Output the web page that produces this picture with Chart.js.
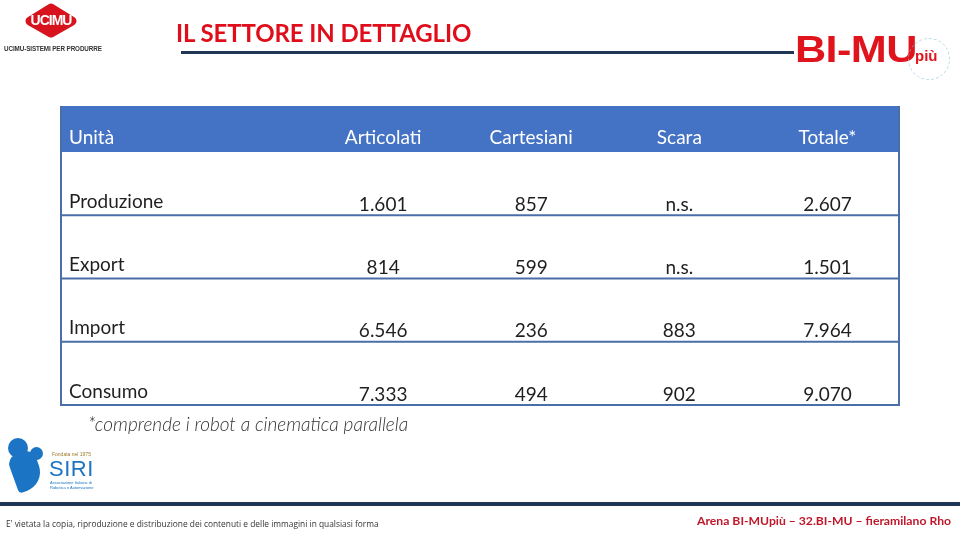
<!DOCTYPE html>
<html><head><meta charset="utf-8">
<script src="https://cdn.jsdelivr.net/npm/chart.js@4/dist/chart.umd.min.js"></script>
<style>
html,body{margin:0;padding:0;background:#fff;width:960px;height:540px;overflow:hidden;position:relative;font-family:Lato,"Open Sans",sans-serif}
#wrap{position:absolute;left:0;top:0;width:960px;height:540px}
.abs{position:absolute;white-space:nowrap}
</style></head><body>
<div id="wrap"><canvas id="c" width="960" height="540"></canvas></div>

<!-- UCIMU logo -->
<svg class="abs" style="left:0;top:0" width="110" height="60">
  <polygon points="51,8 72,21 51,33 30,21" fill="#d7131d" stroke="#d7131d" stroke-width="9" stroke-linejoin="round"/>
</svg>
<div class="abs" style="left:24px;top:12px;width:54px;text-align:center;color:#fff;font-family:'Liberation Sans',Arial,sans-serif;font-weight:bold;font-size:14px;letter-spacing:-1px">UCIMU</div>
<div class="abs" style="left:4px;top:45px;font-family:'Liberation Sans',Arial,sans-serif;font-size:6.3px;color:#333;font-weight:bold;letter-spacing:-0.1px">UCIMU-SISTEMI PER PRODURRE</div>

<!-- Title -->
<div class="abs" style="left:176px;top:18px;font-family:Lato,sans-serif;font-weight:bold;font-size:24px;color:#e00d1a;letter-spacing:-0.1px">IL SETTORE IN DETTAGLIO</div>
<div class="abs" style="left:181px;top:51px;width:613px;height:3px;background:#1f3657"></div>

<!-- BI-MU logo -->
<div class="abs" style="left:795px;top:29px;font-family:'Liberation Sans',Arial,sans-serif;font-weight:bold;font-size:36px;color:#e0141d;transform-origin:0 0;transform:scaleX(1.2);letter-spacing:-0.5px">BI-MU</div>
<div class="abs" style="left:915px;top:47px;font-family:'Liberation Sans',Arial,sans-serif;font-weight:bold;font-size:15px;color:#e0141d">più</div>
<div class="abs" style="left:908px;top:38px;width:40px;height:40px;border:1px dashed #8cc4d8;border-radius:50%;opacity:0.6"></div>

<!-- Footnote -->
<div class="abs" style="left:88px;top:412px;font-family:Lato,sans-serif;font-style:italic;font-weight:300;font-size:19px;color:#333">*comprende i robot a cinematica parallela</div>

<!-- SIRI logo -->
<div class="abs" style="left:8px;top:438px;width:20px;height:20px;border-radius:50%;background:#1b74c4"></div>
<div class="abs" style="left:30px;top:447px;width:13px;height:13px;border-radius:50%;background:#1b74c4"></div>
<div class="abs" style="left:12px;top:452px;width:28px;height:38px;border-radius:10px 10px 20px 4px;background:#1b74c4;transform:rotate(-20deg)"></div>
<div class="abs" style="left:52px;top:451px;font-family:'Liberation Sans',sans-serif;font-size:5px;color:#a07b2a">Fondata nel 1975</div>
<div class="abs" style="left:49px;top:456px;font-family:'Liberation Sans',sans-serif;font-size:22px;color:#1b74c4;letter-spacing:0.5px">SIRI</div>
<div class="abs" style="left:50px;top:480px;font-family:'Liberation Sans',sans-serif;font-size:4px;color:#1b74c4;line-height:5px">Associazione Italiana di<br>Robotica e Automazione</div>

<!-- Footer -->
<div class="abs" style="left:0;top:502px;width:960px;height:4px;background:#1f3657"></div>
<div class="abs" style="left:6px;top:518px;font-family:'Open Sans',sans-serif;font-size:8.4px;color:#333">E' vietata la copia, riproduzione e distribuzione dei contenuti e delle immagini in qualsiasi forma</div>
<div class="abs" style="left:697px;top:513px;font-family:Lato,sans-serif;font-weight:bold;font-size:12.2px;color:#c0172b">Arena BI-MUpiù – 32.BI-MU – fieramilano Rho</div>

<script>
// ---- data ----
const columns = ["Unità", "Articolati", "Cartesiani", "Scara", "Totale*"];
const rows = ["Produzione", "Export", "Import", "Consumo"];
const articolati = [1601, 814, 6546, 7333];
const cartesiani = [857, 599, 236, 494];
const scara = [null, null, 883, 902];   // null = n.s.
const totale = [2607, 1501, 7964, 9070];

const series = [articolati, cartesiani, scara, totale];

function fmt(v) {
  if (v === null || v === undefined) return "n.s.";
  return String(v).replace(/\B(?=(\d{3})+(?!\d))/g, ".");
}

const datasets = series.map((arr, ci) => ({
  label: columns[ci + 1],
  data: rows.map((r, ri) => ({ x: ci + 1, y: r, v: arr[ri] })),
  pointRadius: 0,
  pointHoverRadius: 0,
  showLine: false
}));

const HEADER_H = 46;
const FONT = '19px Lato, sans-serif';
const tablePlugin = {
  id: 'tablePlugin',
  afterDatasetsDraw(chart) {
    const ctx = chart.ctx;
    const ca = chart.chartArea;
    const xs = chart.scales.x, ys = chart.scales.y;
    ctx.save();
    // header background
    ctx.fillStyle = '#4472c4';
    ctx.fillRect(ca.left, ca.top - HEADER_H, ca.right - ca.left, HEADER_H);
    // header text
    ctx.fillStyle = '#ffffff';
    ctx.font = FONT;
    ctx.textBaseline = 'middle';
    const hy = ca.top - HEADER_H + 32;
    ctx.textAlign = 'left';
    ctx.fillText(columns[0], ca.left + 9, hy);
    ctx.textAlign = 'center';
    for (let i = 1; i < columns.length; i++) {
      ctx.fillText(columns[i], xs.getPixelForValue(i), hy);
    }
    // row lines
    ctx.strokeStyle = '#4a6ea6';
    ctx.lineWidth = 2;
    const step = ys.getPixelForValue(1) - ys.getPixelForValue(0);
    for (let r = 0; r < rows.length; r++) {
      const yb = ys.getPixelForValue(r) + step / 2;
      ctx.beginPath(); ctx.moveTo(ca.left, yb); ctx.lineTo(ca.right, yb); ctx.stroke();
    }
    // side borders
    ctx.beginPath(); ctx.moveTo(ca.left + 1, ca.top - HEADER_H); ctx.lineTo(ca.left + 1, ca.bottom + 1); ctx.stroke();
    ctx.beginPath(); ctx.moveTo(ca.right - 1, ca.top - HEADER_H); ctx.lineTo(ca.right - 1, ca.bottom + 1); ctx.stroke();
    // row labels
    ctx.fillStyle = '#1f1f1f';
    ctx.font = FONT;
    ctx.textAlign = 'left';
    rows.forEach((r, ri) => {
      ctx.fillText(r, ca.left + 9, ys.getPixelForValue(ri) + 18);
    });
    // cells
    ctx.textAlign = 'center';
    chart.data.datasets.forEach((ds, di) => {
      const meta = chart.getDatasetMeta(di);
      meta.data.forEach((el, k) => {
        ctx.fillText(fmt(ds.data[k].v), el.x, el.y + 21);
      });
    });
    ctx.restore();
  }
};

new Chart(document.getElementById('c'), {
  type: 'scatter',
  data: { datasets },
  options: {
    responsive: false,
    animation: false,
    events: [],
    layout: { padding: { left: 60, right: 60, top: 152, bottom: 135 } },
    plugins: { legend: { display: false }, tooltip: { enabled: false } },
    scales: {
      x: { type: 'linear', min: -1.182, max: 4.49, display: false },
      y: { type: 'category', labels: rows, offset: true, display: false }
    }
  },
  plugins: [tablePlugin]
});
</script>
</body></html>
